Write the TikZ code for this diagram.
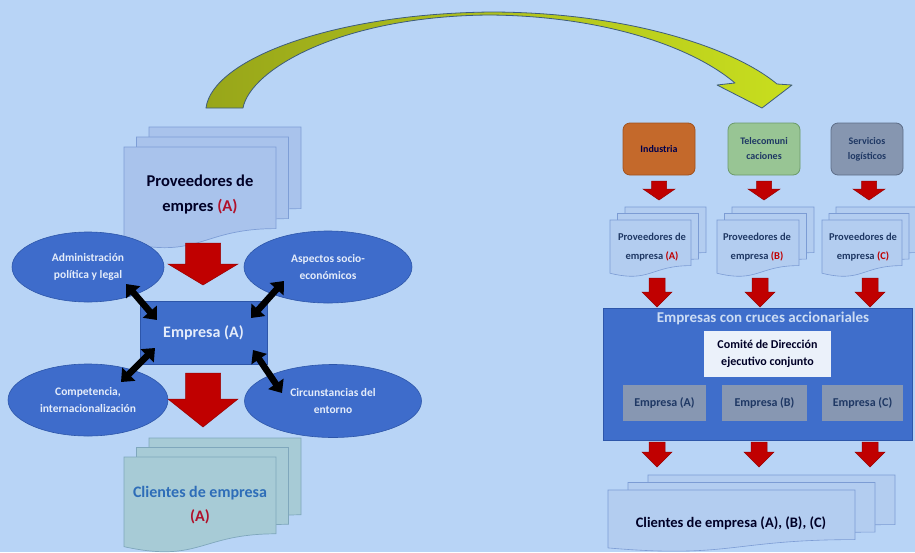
\documentclass[tikz,border=0pt]{standalone}
\usepackage{fontspec}
\setmainfont{Carlito}
\usetikzlibrary{shapes.geometric,arrows.meta}

\definecolor{bgc}{HTML}{B8D4F6}
\definecolor{docL}{HTML}{A9C3EC}
\definecolor{docLedge}{HTML}{7E9ED6}
\definecolor{docC}{HTML}{A7CBD6}
\definecolor{docCedge}{HTML}{7FA7BC}
\definecolor{docR}{HTML}{B3CDF0}
\definecolor{docRedge}{HTML}{7C9CD4}
\definecolor{ellfill}{HTML}{3E6CCB}
\definecolor{elledge}{HTML}{2D56AA}
\definecolor{boxblue}{HTML}{3F6ECB}
\definecolor{redA}{HTML}{C00000}
\definecolor{redEdge}{HTML}{960000}
\definecolor{grayE}{HTML}{8797B2}
\definecolor{comite}{HTML}{EBF1FA}
\definecolor{orangeB}{HTML}{C4692B}
\definecolor{orangeE}{HTML}{A0521E}
\definecolor{greenB}{HTML}{98C594}
\definecolor{greenE}{HTML}{6B9A6A}
\definecolor{slateB}{HTML}{8696B0}
\definecolor{slateE}{HTML}{5D6D88}
\definecolor{navy}{HTML}{1F3864}
\definecolor{darkred}{HTML}{B0102A}
\definecolor{oliveA}{HTML}{98A61A}
\definecolor{limeA}{HTML}{C8DE1E}
\definecolor{arrEdge}{HTML}{3E5C7C}
\definecolor{titleC}{HTML}{CCDCF4}
\definecolor{ellText}{HTML}{E4ECFA}
\definecolor{cliBlue}{HTML}{2E6DB8}

\newcommand{\docsheet}[5]{%
  \path[#5] ({#1},{#2}) -- ({#1+#3},{#2}) -- ({#1+#3},{#2+0.8*#4})
    .. controls ({#1+0.5*#3},{#2+0.8*#4}) and ({#1+0.5*#3},{#2+1.107*#4}) ..
    ({#1},{#2+0.934*#4}) -- cycle;}
\newcommand{\docstack}[7]{%
  \docsheet{#1+2*#5}{#2-2*#6}{#3}{#4}{#7}%
  \docsheet{#1+#5}{#2-#6}{#3}{#4}{#7}%
  \docsheet{#1}{#2}{#3}{#4}{#7}}
\newcommand{\blockdown}[6]{%
  \path[redblock] ({#1-#6},{#2}) -- ({#1+#6},{#2}) -- ({#1+#6},{#3}) -- ({#1+#5},{#3})
    -- ({#1},{#4}) -- ({#1-#5},{#3}) -- ({#1-#6},{#3}) -- cycle;}

\tikzset{
  sheetL/.style={fill=docL, draw=docLedge, line width=0.7pt},
  sheetC/.style={fill=docC, draw=docCedge, line width=0.7pt},
  sheetR/.style={fill=docR, draw=docRedge, line width=0.6pt},
  redblock/.style={fill=redA, draw=redEdge, line width=0.5pt},
  ell/.style={ellipse, fill=ellfill, draw=elledge, line width=0.6pt, inner sep=0pt,
    text=ellText, align=center, font=\fontsize{11.5}{17}\selectfont\bfseries},
  dblarrow/.style={draw=black, line width=6.5pt,
    {Triangle[length=11pt,width=18pt]}-{Triangle[length=11pt,width=18pt]}},
  topbox/.style={rounded corners=7pt, line width=0.8pt, minimum width=72pt,
    minimum height=52pt, align=center, font=\fontsize{10}{15}\selectfont\bfseries},
  grayemp/.style={fill=grayE, minimum height=36pt, inner sep=0pt, text=navy,
    font=\fontsize{12}{14}\selectfont\bfseries},
  lbl/.style={align=center, inner sep=0pt},
}

\begin{document}
\begin{tikzpicture}[x=1pt,y=-1pt]
\path[fill=bgc, use as bounding box] (0,0) rectangle (915,552);

% ---------- curved arrow ----------
\path[left color=oliveA, right color=limeA, draw=arrEdge, line width=0.8pt, line join=round]
  (206,108) .. controls (212,60) and (330,14) .. (490,12)
  .. controls (620,12) and (730,45) .. (777,84)
  -- (792,85) -- (762,108) -- (717,85) -- (735,83)
  .. controls (690,45) and (600,16) .. (490,15)
  .. controls (340,16) and (250,70) .. (243,108) -- cycle;

% ---------- left side ----------
\docstack{124}{147}{152}{102}{12.5}{10}{sheetL}
\node[lbl, font=\fontsize{16.5}{25}\selectfont\bfseries, text=black!85!blue] (provL) at (200,194.5)
  {Proveedores de\\empres \textcolor{darkred}{(A)}};

\blockdown{203}{243}{264}{285}{35}{17.5}

\node[ell, minimum width=152pt, minimum height=70pt] (adm) at (88,267)
  {Administración\\política y legal};
\node[ell, minimum width=168pt, minimum height=72pt] (asp) at (328,267)
  {Aspectos socio-\\económicos};
\node[ell, minimum width=160pt, minimum height=72pt] (com) at (88,400)
  {Competencia,\\internacionalización};
\node[ell, minimum width=177pt, minimum height=73pt] (cir) at (333,401)
  {Circunstancias del\\entorno};

\node[fill=boxblue, draw=elledge, line width=0.5pt, minimum width=127pt, minimum height=63pt,
  inner sep=0pt, text=ellText, font=\fontsize{16}{18}\selectfont\bfseries] (emp) at (203.5,332.5) {Empresa (A)};

\coordinate (a1s) at (126,284);
\coordinate (a1e) at (157,320);
\coordinate (a2s) at (284,281);
\coordinate (a2e) at (251,318);
\coordinate (a3s) at (155,348);
\coordinate (a3e) at (121,382);
\coordinate (a4s) at (253,350);
\coordinate (a4e) at (282,393);
\draw[dblarrow] (a1s) -- (a1e);
\draw[dblarrow] (a2s) -- (a2e);
\draw[dblarrow] (a3s) -- (a3e);
\draw[dblarrow] (a4s) -- (a4e);

\blockdown{203}{373}{399}{427}{35}{17.5}

\docstack{124}{457}{152}{96}{12.5}{9.5}{sheetC}
\node[lbl, font=\fontsize{16}{24}\selectfont\bfseries, text=cliBlue] (cliL) at (200,505)
  {Clientes de empresa\\\textcolor{darkred}{(A)}};

% ---------- right side ----------
\node[topbox, fill=orangeB, draw=orangeE, text=black!70!blue] (ind) at (659,149) {Industria};
\node[topbox, fill=greenB, draw=greenE, text=navy] (tel) at (764,149) {Telecomuni\\caciones};
\node[topbox, fill=slateB, draw=slateE, text=navy] (ser) at (867,149) {Servicios\\logísticos};

\blockdown{659}{181}{189}{200}{16}{7.5}
\blockdown{764}{181}{189}{200}{16}{7.5}
\blockdown{869}{181}{189}{200}{16}{7.5}

\docstack{610}{220}{81}{57}{7.5}{6.5}{sheetR}
\docstack{717}{220}{82}{57}{7.5}{6.5}{sheetR}
\docstack{822}{220}{80}{57}{7}{6.5}{sheetR}
\node[lbl, text=navy, font=\fontsize{10.5}{19}\selectfont\bfseries] (provA) at (652,247)
  {Proveedores de\\empresa \textcolor{redA}{(A)}};
\node[lbl, text=navy, font=\fontsize{10.5}{19}\selectfont\bfseries] (provB) at (757,247)
  {Proveedores de\\empresa \textcolor{redA}{(B)}};
\node[lbl, text=navy, font=\fontsize{10.5}{19}\selectfont\bfseries] (provC) at (863,247)
  {Proveedores de\\empresa \textcolor{redA}{(C)}};

\blockdown{657}{278}{292}{307}{15}{8}
\blockdown{760}{278}{292}{307}{15}{8}
\blockdown{870}{278}{292}{307}{15}{8}

\node[fill=boxblue, draw=elledge, line width=0.5pt, minimum width=309pt, minimum height=132pt,
  inner sep=0pt] (grp) at (757.5,374) {};
\node[lbl, text=titleC, font=\fontsize{15}{17}\selectfont\bfseries] (grpT) at (763,318)
  {Empresas con cruces accionariales};
\node[fill=comite, minimum width=127pt, minimum height=46pt, inner sep=0pt, align=center,
  text=black!85!blue, font=\fontsize{12}{17}\selectfont\bfseries] (cmt) at (767.5,354)
  {Comité de Dirección\\ejecutivo conjunto};
\node[grayemp, minimum width=83pt] (eA) at (664.5,403) {Empresa (A)};
\node[grayemp, minimum width=85pt] (eB) at (764.5,403) {Empresa (B)};
\node[grayemp, minimum width=81pt] (eC) at (862.5,403) {Empresa (C)};

\blockdown{657}{442}{452}{467}{15}{8}
\blockdown{759}{442}{452}{467}{15}{8}
\blockdown{870}{442}{452}{467}{15}{8}

\docstack{608}{490}{247}{62}{20}{7.5}{sheetR}
\node[lbl, text=black!85!blue, font=\fontsize{14.5}{17}\selectfont\bfseries] (cliR) at (731,523)
  {Clientes de empresa (A), (B), (C)};
\end{tikzpicture}
\end{document}
